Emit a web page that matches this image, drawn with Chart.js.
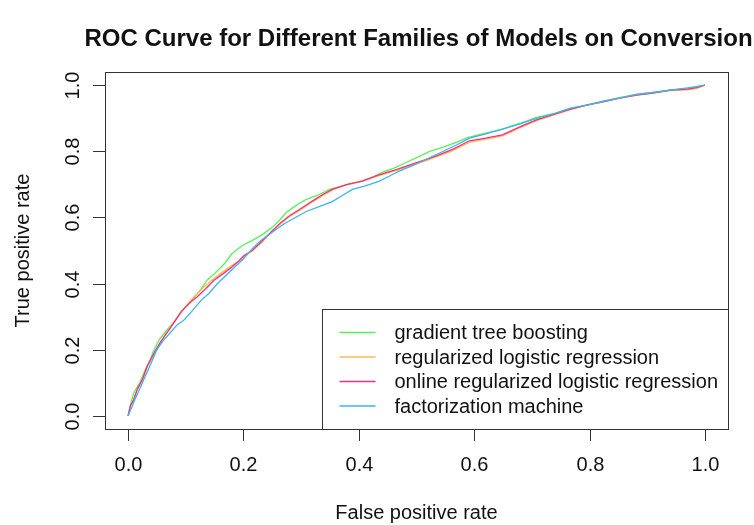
<!DOCTYPE html>
<html>
<head>
<meta charset="utf-8">
<script src="https://cdn.jsdelivr.net/npm/chart.js@4/dist/chart.umd.min.js"></script>
<style>
  html, body { margin: 0; padding: 0; background: #ffffff; }
  #c { display: block; }
</style>
</head>
<body>
<canvas id="c" width="754" height="525"></canvas>
<script>
// ---------------- data ----------------
const chartTitle = "ROC Curve for Different Families of Models on Conversion";
const xAxisTitle = "False positive rate";
const yAxisTitle = "True positive rate";
const xTicks = [0, 0.2, 0.4, 0.6, 0.8, 1.0];
const yTicks = [0, 0.2, 0.4, 0.6, 0.8, 1.0];
const seriesNames = [
  "gradient tree boosting",
  "regularized logistic regression",
  "online regularized logistic regression",
  "factorization machine"
];
const seriesColors = ["#55f255", "#ffb84d", "#fa2d86", "#3cb4f0"];

// gradient tree boosting
const fprGTB = [0,0.005,0.01,0.02,0.03,0.036,0.045,0.054,0.065,0.08,0.095,0.111,0.125,0.137,0.15,0.167,0.18,0.198,0.215,0.233,0.25,0.262,0.274,0.29,0.309,0.33,0.349,0.375,0.406,0.425,0.441,0.462,0.483,0.503,0.523,0.545,0.57,0.59,0.62,0.649,0.68,0.708,0.74,0.766,0.795,0.823,0.85,0.882,0.91,0.94,0.97,0.985,1];
const tprGTB = [0,0.04,0.07,0.10,0.14,0.16,0.20,0.23,0.255,0.285,0.32,0.35,0.38,0.41,0.43,0.46,0.49,0.515,0.53,0.548,0.57,0.59,0.615,0.635,0.655,0.668,0.685,0.697,0.71,0.723,0.737,0.75,0.767,0.783,0.80,0.812,0.828,0.842,0.855,0.867,0.885,0.903,0.915,0.93,0.94,0.952,0.962,0.973,0.978,0.986,0.99,0.995,1];

// regularized logistic regression
const fprRLR = [0,0.004,0.01,0.017,0.026,0.034,0.046,0.056,0.064,0.076,0.093,0.108,0.12,0.133,0.145,0.16,0.178,0.193,0.202,0.216,0.232,0.25,0.266,0.28,0.298,0.32,0.337,0.355,0.38,0.405,0.43,0.45,0.466,0.49,0.517,0.54,0.563,0.592,0.62,0.649,0.68,0.708,0.735,0.766,0.795,0.823,0.85,0.882,0.91,0.94,0.97,0.985,1];
const tprRLR = [0,0.03,0.05,0.085,0.115,0.15,0.19,0.22,0.245,0.275,0.315,0.348,0.37,0.392,0.41,0.43,0.452,0.47,0.483,0.50,0.525,0.558,0.583,0.603,0.622,0.648,0.666,0.684,0.70,0.71,0.724,0.734,0.742,0.757,0.772,0.787,0.802,0.828,0.836,0.847,0.872,0.893,0.908,0.926,0.94,0.951,0.961,0.971,0.977,0.984,0.986,0.99,1];

// online regularized logistic regression
const fprORLR = [0,0.004,0.01,0.016,0.025,0.033,0.045,0.055,0.063,0.075,0.092,0.109,0.12,0.135,0.149,0.165,0.18,0.193,0.201,0.215,0.23,0.25,0.265,0.28,0.297,0.32,0.336,0.354,0.38,0.406,0.43,0.45,0.465,0.49,0.517,0.54,0.5625,0.592,0.62,0.649,0.68,0.708,0.735,0.766,0.795,0.823,0.85,0.882,0.91,0.94,0.97,0.985,1];
const tprORLR = [0,0.03,0.05,0.08,0.11,0.15,0.19,0.22,0.24,0.27,0.315,0.345,0.36,0.385,0.41,0.43,0.45,0.47,0.485,0.50,0.525,0.56,0.585,0.605,0.624,0.65,0.668,0.685,0.70,0.71,0.726,0.737,0.745,0.76,0.776,0.79,0.806,0.832,0.84,0.85,0.875,0.895,0.91,0.927,0.94,0.95,0.96,0.97,0.976,0.985,0.988,0.993,1];

// factorization machine
const fprFM = [0,0.005,0.012,0.02,0.03,0.04,0.05,0.06,0.075,0.085,0.097,0.11,0.127,0.14,0.155,0.17,0.185,0.2,0.215,0.23,0.25,0.27,0.29,0.309,0.33,0.354,0.37,0.389,0.41,0.436,0.455,0.47,0.495,0.517,0.54,0.57,0.592,0.62,0.649,0.68,0.708,0.74,0.766,0.795,0.823,0.85,0.882,0.91,0.94,0.97,0.985,1];
const tprFM = [0,0.02,0.05,0.08,0.12,0.16,0.20,0.225,0.255,0.275,0.29,0.315,0.35,0.37,0.40,0.425,0.45,0.475,0.505,0.53,0.555,0.58,0.60,0.618,0.632,0.648,0.665,0.685,0.695,0.71,0.727,0.74,0.758,0.776,0.795,0.82,0.84,0.853,0.867,0.883,0.90,0.915,0.93,0.94,0.95,0.96,0.972,0.978,0.985,0.992,0.996,1];

// ---------------- build chart ----------------
const FONT = '"Liberation Sans", Arial, Helvetica, sans-serif';
function pts(xs, ys) { return xs.map((v, i) => ({ x: v, y: ys[i] })); }
const seriesData = [pts(fprGTB, tprGTB), pts(fprRLR, tprRLR), pts(fprORLR, tprORLR), pts(fprFM, tprFM)];

const datasets = seriesNames.map((name, i) => ({
  label: name,
  data: seriesData[i],
  showLine: true,
  borderColor: seriesColors[i],
  backgroundColor: seriesColors[i],
  borderWidth: 1.3,
  pointRadius: 0,
  pointHoverRadius: 0,
  tension: 0,
  fill: false,
  order: 4 - i
}));

const rBasePlot = {
  id: 'rBasePlot',
  beforeDraw(chart) {
    const ctx = chart.ctx;
    ctx.save();
    ctx.fillStyle = '#ffffff';
    ctx.fillRect(0, 0, chart.width, chart.height);
    ctx.restore();
  },
  afterDraw(chart) {
    const { ctx, chartArea: a, scales } = chart;
    const sx = scales.x, sy = scales.y;
    ctx.save();
    // plot box
    ctx.strokeStyle = '#333333';
    ctx.lineWidth = 1;
    ctx.strokeRect(Math.round(a.left) + 0.5, Math.round(a.top) + 0.5,
                   Math.round(a.right - a.left), Math.round(a.bottom - a.top));
    ctx.fillStyle = '#111111';
    // x ticks
    ctx.font = '20px ' + FONT;
    ctx.textAlign = 'center';
    ctx.textBaseline = 'alphabetic';
    xTicks.forEach(v => {
      const px = Math.round(sx.getPixelForValue(v)) + 0.5;
      ctx.beginPath();
      ctx.moveTo(px, a.bottom);
      ctx.lineTo(px, a.bottom + 12);
      ctx.stroke();
      ctx.fillText(v.toFixed(1), px, a.bottom + 42);
    });
    // y ticks (labels rotated, as in R)
    yTicks.forEach(v => {
      const py = Math.round(sy.getPixelForValue(v)) + 0.5;
      ctx.beginPath();
      ctx.moveTo(a.left, py);
      ctx.lineTo(a.left - 12, py);
      ctx.stroke();
      ctx.save();
      ctx.translate(a.left - 26, py);
      ctx.rotate(-Math.PI / 2);
      ctx.fillText(v.toFixed(1), 0, 0);
      ctx.restore();
    });
    const cx = (a.left + a.right) / 2;
    const cy = (a.top + a.bottom) / 2;
    // axis titles
    ctx.fillText(xAxisTitle, cx, a.bottom + 90);
    ctx.save();
    ctx.translate(29, cy);
    ctx.rotate(-Math.PI / 2);
    ctx.fillText(yAxisTitle, 0, 0);
    ctx.restore();
    // main title
    ctx.font = 'bold 24px ' + FONT;
    ctx.fillText(chartTitle, cx + 2, 46);
    // legend (bottom right)
    const lw = 406, lh = 120;
    const lx = Math.round(a.right - lw) + 0.5, ly = Math.round(a.bottom - lh) + 0.5;
    ctx.fillStyle = '#ffffff';
    ctx.fillRect(lx, ly, lw, lh);
    ctx.strokeStyle = '#333333';
    ctx.strokeRect(lx, ly, Math.round(a.right) - lx + 0.5, Math.round(a.bottom) - ly + 0.5);
    ctx.font = '20px ' + FONT;
    ctx.textAlign = 'left';
    ctx.textBaseline = 'middle';
    seriesNames.forEach((name, i) => {
      const yy = ly + 23 + i * 24.5;
      ctx.strokeStyle = seriesColors[i];
      ctx.lineWidth = 1.4;
      ctx.beginPath();
      ctx.moveTo(lx + 17, yy);
      ctx.lineTo(lx + 53, yy);
      ctx.stroke();
      ctx.fillStyle = '#111111';
      ctx.fillText(name, lx + 72, yy + 1);
    });
    ctx.restore();
  }
};

new Chart(document.getElementById('c'), {
  type: 'scatter',
  data: { datasets },
  options: {
    responsive: false,
    animation: false,
    devicePixelRatio: 1,
    layout: { padding: { left: 105, right: 26, top: 72, bottom: 96 } },
    plugins: {
      legend: { display: false },
      title: { display: false },
      tooltip: { enabled: false }
    },
    scales: {
      x: { type: 'linear', min: -0.04, max: 1.04, display: false },
      y: { type: 'linear', min: -0.04, max: 1.04, display: false }
    }
  },
  plugins: [rBasePlot]
});
</script>
</body>
</html>
